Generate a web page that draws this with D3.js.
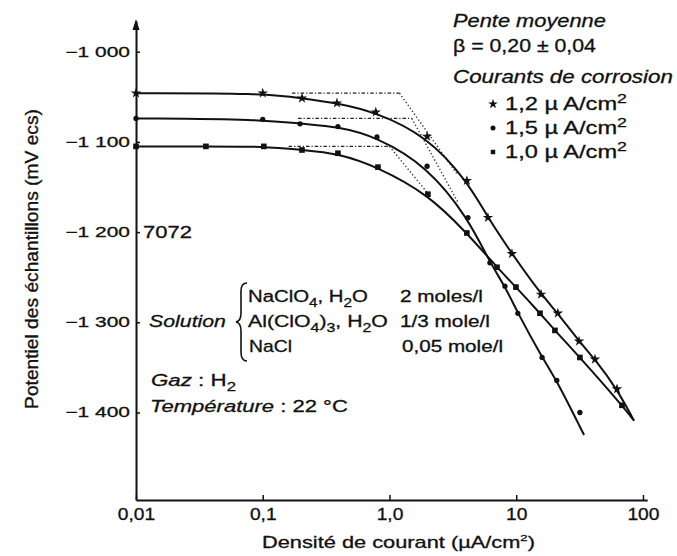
<!DOCTYPE html>
<html><head><meta charset="utf-8">
<script src="https://cdn.jsdelivr.net/npm/d3@7"></script>
<style>
html,body{margin:0;padding:0;background:#fff;}
svg{display:block;}
text{font-family:"Liberation Sans",Arial,Helvetica,sans-serif;fill:#111;stroke:#111;stroke-width:0.3px;}
</style></head><body>
<svg id="chart" width="677" height="556"></svg>
<script>
// ---------------- data ----------------
const xTicks = [0.01, 0.1, 1, 10, 100];
const xTickLabels = ["0,01", "0,1", "1,0", "10", "100"];
const yTicks = [-1000, -1100, -1200, -1300, -1400];
const yTickLabels = ["\u22121 000", "\u22121 100", "\u22121 200", "\u22121 300", "\u22121 400"];

// corrosion currents (µA/cm²) and plateau potentials (mV ecs), order: star, circle, square
const legendLabels = ["1,2 \u00b5 A/cm", "1,5 \u00b5 A/cm", "1,0 \u00b5 A/cm"];
const corrosionCurrents = [1.2, 1.5, 1.0];
const plateaus = [-1046, -1074, -1105];

// measured points [current density µA/cm², potential mV]
const starPoints = [[0.01,-1046],[0.1,-1046],[0.204,-1051.6],[0.385,-1057],[0.78,-1067],[1.98,-1094],[4.08,-1143],[5.98,-1184],[9.25,-1224],[15.7,-1269],[21.3,-1290],[31.3,-1321],[41.8,-1341],[62.4,-1374]];
const circlePoints = [[0.01,-1074],[0.1,-1075],[0.197,-1080],[0.392,-1083],[0.797,-1094.5],[1.98,-1127],[4.16,-1184],[6.2,-1234],[8.15,-1260],[10.3,-1290],[16.0,-1339],[20.9,-1364.5]];
const circleStray = [[31.8,-1400]];
const squarePoints = [[0.01,-1105],[0.0356,-1105],[0.102,-1105],[0.204,-1109],[0.392,-1112.6],[0.811,-1128],[2.01,-1158],[4.08,-1201],[7.05,-1239],[9.95,-1261],[15.4,-1290],[20.2,-1309],[31.8,-1339],[68.3,-1392]];
// end of each fitted curve
const curveEnds = [[85,-1409],[34.3,-1425],[85,-1409]];
// construction lines: start of dotted plateau extension and end of Tafel extrapolation
const plateauExtStart = [0.17, 0.19, 0.16];
const tafelEnds = [[3.47,-1137],[3.47,-1167],[1.98,-1156]];

// ---------------- chart ----------------
const svg = d3.select("#chart");
svg.append("rect").attr("width",677).attr("height",556).attr("fill","#fff");

const x = d3.scaleLog().domain([0.01, 108]).range([136, 647.2]);
const y = d3.scaleLinear().domain([-1497, -966]).range([500, 21]);

function addText(parent, px, py, parts, o) {
  const g = parent.append("g").attr("transform", `translate(${px},${py})` + (o.rotate ? ` rotate(${o.rotate})` : ""));
  const t = g.append("text").attr("font-size", o.fs).attr("text-anchor", o.anchor || "start");
  let shift = 0;
  parts.forEach(p => {
    const s = typeof p === "string" ? {t:p} : p;
    const ts = t.append("tspan").text(s.t);
    if (s.i) ts.attr("font-style","italic");
    const target = s.sub ? o.fs*0.3 : s.sup ? -o.fs*0.42 : 0;
    const dy = target - shift; shift = target;
    if (dy) ts.attr("dy", dy);
    if (s.sub || s.sup) ts.attr("font-size", o.fs*(s.small ? 0.6 : 0.75));
  });
  const bw = t.node().getBBox().width;
  const sx = o.width ? o.width / bw : (o.sx || 1);
  t.attr("transform", `scale(${sx},${o.sy||1})`);
  return t;
}

// axes
const xAxis = d3.axisBottom(x).tickValues(xTicks).tickFormat((d,i)=>xTickLabels[i])
  .tickSizeInner(-5).tickSizeOuter(0).tickPadding(9);
const gx = svg.append("g").attr("transform","translate(0,500)").call(xAxis);
const yAxis = d3.axisLeft(y).tickValues(yTicks).tickFormat((d,i)=>yTickLabels[i])
  .tickSizeInner(-4).tickSizeOuter(0).tickPadding(6);
const gy = svg.append("g").attr("transform",`translate(${x(0.01)},0)`).call(yAxis);
[gx, gy].forEach(g => {
  g.attr("font-family", null).attr("font-size", null);
  g.select(".domain").attr("stroke","#111").attr("stroke-width",2);
  g.selectAll(".tick line").attr("stroke","#111").attr("stroke-width",1.5);
});
gx.selectAll(".tick text").attr("font-size",16).attr("fill","#111")
  .attr("transform","scale(1.2,1)");
gy.selectAll(".tick text").attr("font-size",14).attr("fill","#111")
  .each(function(){
    const bw = this.getBBox().width;
    const s = 65 / bw;
    d3.select(this).attr("transform", `translate(-6,0) scale(${s},1) translate(6,0)`);
  });
// arrow on y axis
const x0 = x(0.01);
svg.append("path").attr("d", `M${x0-3.5},30 L${x0},19 L${x0+3.5},30 Z`).attr("fill","#111");

// construction (dotted) lines
const lineXY = d3.line().x(d=>x(d[0])).y(d=>y(d[1]));
plateaus.forEach((p,i) => {
  svg.append("path").attr("d", lineXY([[plateauExtStart[i], p],[corrosionCurrents[i], p]]))
    .attr("fill","none").attr("stroke","#222").attr("stroke-width",1.4).attr("stroke-dasharray","3.5,2,1.2,2");
  svg.append("path").attr("d", lineXY([[corrosionCurrents[i], p], tafelEnds[i]]))
    .attr("fill","none").attr("stroke","#333").attr("stroke-width",1.4).attr("stroke-dasharray","1.3,2.3");
});

// fitted curves
const curve = d3.line().x(d=>x(d[0])).y(d=>y(d[1])).curve(d3.curveBasis);
[starPoints, circlePoints, squarePoints].forEach((pts,i) => {
  svg.append("path").attr("d", curve(pts.concat([curveEnds[i]])))
    .attr("fill","none").attr("stroke","#111").attr("stroke-width",2);
});

// markers
const star = d3.symbol().type(d3.symbolStar).size(34);
const dot = d3.symbol().type(d3.symbolCircle).size(22);
const sq = d3.symbol().type(d3.symbolSquare).size(32);
svg.append("g").selectAll("path").data(starPoints).join("path")
  .attr("d", star).attr("transform", d=>`translate(${x(d[0])},${y(d[1])})`).attr("fill","#111");
svg.append("g").selectAll("path").data(circlePoints.concat(circleStray)).join("path")
  .attr("d", dot).attr("transform", d=>`translate(${x(d[0])},${y(d[1])})`).attr("fill","#111");
svg.append("g").selectAll("path").data(squarePoints).join("path")
  .attr("d", sq).attr("transform", d=>`translate(${x(d[0])},${y(d[1])})`).attr("fill","#111");

// axis titles
addText(svg, 262, 548, ["Densit\u00e9 de courant (\u00b5A/cm", {t:"2",sup:1,small:1}, ")"], {fs:16, width:273});
addText(svg, 38, 259, ["Potentiel des \u00e9chantillons (mV ecs)"], {fs:16, width:300, sy:1.15, rotate:-90, anchor:"middle"});

// legend (top right)
addText(svg, 453, 26.5, [{t:"Pente moyenne", i:1}], {fs:18, width:153});
addText(svg, 453, 51.5, ["\u03b2 = 0,20 \u00b1 0,04"], {fs:18, width:143});
addText(svg, 453, 83, [{t:"Courants de corrosion", i:1}], {fs:18, width:220});
const legendY = [110, 134, 158];
const legendSymbols = [d3.symbol().type(d3.symbolStar).size(30), d3.symbol().type(d3.symbolCircle).size(20), d3.symbol().type(d3.symbolSquare).size(20)];
legendLabels.forEach((lab,i) => {
  svg.append("path").attr("d", legendSymbols[i]).attr("transform",`translate(493,${legendY[i]-6})`).attr("fill","#111");
  addText(svg, 505, legendY[i], [lab, {t:"2", sup:1}], {fs:17.5, width:122});
});

// annotations
addText(svg, 143, 238, ["7072"], {fs:17, width:49});
addText(svg, 149, 327, [{t:"Solution", i:1}], {fs:17, width:77});
svg.append("path")
  .attr("d","M247,283 Q241,283 241,291 L241,313 Q241,321 236,322 Q241,323 241,331 L241,352 Q241,361 247,361")
  .attr("fill","none").attr("stroke","#111").attr("stroke-width",1.6);
addText(svg, 248, 302, ["NaClO", {t:"4",sub:1}, ", H", {t:"2",sub:1}, "O"], {fs:16, width:120});
addText(svg, 248, 327, ["Al(ClO", {t:"4",sub:1}, ")", {t:"3",sub:1}, ", H", {t:"2",sub:1}, "O"], {fs:16, width:140});
addText(svg, 249, 352, ["NaCl"], {fs:16, width:43});
addText(svg, 400, 302, ["2 moles/l"], {fs:16, width:83});
addText(svg, 400, 327, ["1/3 mole/l"], {fs:16, width:90});
addText(svg, 402, 352, ["0,05 mole/l"], {fs:16, width:101});
addText(svg, 151, 386, [{t:"Gaz", i:1}, " : H", {t:"2", sub:1}], {fs:17, width:85});
addText(svg, 150, 412, [{t:"Temp\u00e9rature", i:1}, " : 22 \u00b0C"], {fs:17, width:198});
</script>
</body></html>
